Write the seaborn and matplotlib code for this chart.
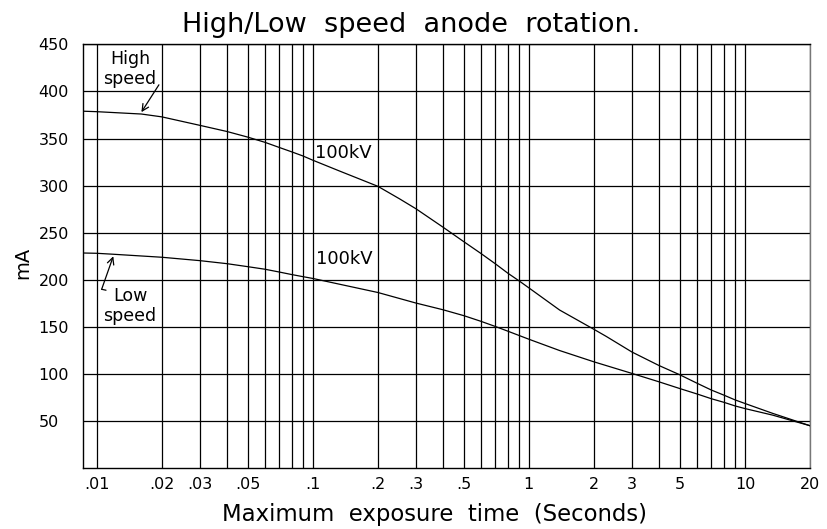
import matplotlib
matplotlib.use("Agg")
import matplotlib.pyplot as plt
from matplotlib.ticker import FixedLocator, NullFormatter
import pandas as pd
import seaborn as sns

# Maximum tube current (mA) against exposure time (s) at 100 kV
high_time_s = [0.00864, 0.01, 0.0161, 0.02, 0.03, 0.04, 0.05, 0.06, 0.07, 0.08,
               0.09, 0.1, 0.133, 0.2, 0.252, 0.3, 0.4, 0.5, 0.6, 0.7, 0.8, 0.9,
               1, 1.387, 2, 2.28, 3, 4, 5, 6, 7, 8, 9, 10, 13.4, 20]
high_speed_ma = [379, 378.5, 376, 373, 364, 357.5, 351.5, 346, 340.5, 335.8,
                 331.5, 327, 315.5, 299.3, 286, 275.5, 256, 240.5, 228,
                 217, 207, 199, 191.5, 168, 147.5, 140, 123.4, 109.1,
                 99.2, 90.3, 83, 77.6, 72.6, 68.8, 58.4, 45.2]

low_time_s = [0.00864, 0.01, 0.0119, 0.02, 0.03, 0.04, 0.05, 0.06, 0.07, 0.08,
              0.09, 0.1, 0.2, 0.3, 0.4, 0.5, 0.6, 0.7, 0.8, 0.9, 1,
              1.387, 2, 3, 4, 5, 6, 7, 8, 9, 10, 13.4, 20]
low_speed_ma = [228.5, 228.2, 227.2, 224, 220.4, 217.2, 214, 211.3, 208.3,
                205.6, 203.4, 201.5, 186.6, 175.4, 168.3, 162, 156, 150.5,
                145.5, 141, 137, 125, 113, 100.7, 91.8, 84.6,
                78.9, 73.8, 70, 66.2, 63.4, 56.5, 45.2]

x_tick_values = [0.01, 0.02, 0.03, 0.05, 0.1, 0.2, 0.3, 0.5, 1, 2, 3, 5, 10, 20]
x_tick_labels = [".01", ".02", ".03", ".05", ".1", ".2", ".3", ".5",
                 "1", "2", "3", "5", "10", "20"]
y_tick_values = [50, 100, 150, 200, 250, 300, 350, 400, 450]

sns.set_style("white")
plt.rcParams["font.family"] = ["DejaVu Sans"]
plt.rcParams.update({"text.color": "black", "axes.labelcolor": "black",
                     "xtick.color": "black", "ytick.color": "black"})

df = pd.DataFrame({
    "time": high_time_s + low_time_s,
    "mA": high_speed_ma + low_speed_ma,
    "speed": ["High speed"] * len(high_time_s) + ["Low speed"] * len(low_time_s),
})

fig = plt.figure(figsize=(8.27, 5.29), dpi=100)
ax = fig.add_axes([0.10036, 0.11474, 0.87908, 0.80151])
ax.set_xscale("log")

sns.lineplot(data=df, x="time", y="mA", hue="speed",
             palette={"High speed": "black", "Low speed": "black"},
             estimator=None, lw=0.9, legend=False, ax=ax, zorder=3)

ax.set_xlim(0.00864, 20)
ax.set_ylim(0, 450)

# log paper: a grid line at every 1..9 multiple of each decade
minor_x = [k * 10.0 ** d for d in range(-2, 2) for k in range(1, 10)
           if k * 10.0 ** d <= 20
           and not any(abs(k * 10.0 ** d - v) < 1e-9 for v in x_tick_values)]
ax.set_xticks(x_tick_values)
ax.set_xticklabels(x_tick_labels)
ax.xaxis.set_minor_locator(FixedLocator(minor_x))
ax.xaxis.set_minor_formatter(NullFormatter())
ax.set_yticks(y_tick_values)
ax.set_yticklabels([str(v) for v in y_tick_values])

ax.grid(which="both", axis="x", color="black", lw=0.9)
ax.grid(which="major", axis="y", color="black", lw=0.9)
ax.tick_params(which="both", length=0)
ax.tick_params(axis="x", pad=6, labelsize=11.5, colors="black")
ax.tick_params(axis="y", pad=32, labelsize=11.5, colors="black")
for lbl in ax.get_yticklabels():
    lbl.set_horizontalalignment("left")

for side in ["left", "bottom", "top"]:
    ax.spines[side].set_color("black")
    ax.spines[side].set_linewidth(1.0)
ax.spines["right"].set_color("#777777")
ax.spines["right"].set_linewidth(1.0)

ax.set_xlabel("Maximum  exposure  time  (Seconds)", fontsize=16.4, color="black")
ax.xaxis.set_label_coords(0.484, -0.082)
ax.set_ylabel("mA", fontsize=14, color="black")
ax.yaxis.set_label_coords(-0.07, 0.484)

fig.text(0.4976, 1 - 32 / 529, "High/Low  speed  anode  rotation.",
         ha="center", va="baseline", fontsize=19.5, color="black")

# curve call-outs
arrow = dict(arrowstyle="->", lw=0.9, color="black", shrinkA=0, shrinkB=0,
             mutation_scale=12)
ax.text(0.01426, 424, "High\nspeed", ha="center", va="center",
        fontsize=12.5, linespacing=1.15, color="black")
ax.annotate("", xy=(0.0161, 378), xytext=(0.0194, 407), arrowprops=arrow)

ax.text(0.01426, 172, "Low\nspeed", ha="center", va="center",
        fontsize=12.5, linespacing=1.15, color="black")
ax.annotate("", xy=(0.01193, 225), xytext=(0.01054, 190), arrowprops=arrow)
ax.annotate("", xy=(0.01104, 189), xytext=(0.01054, 190),
            arrowprops=dict(arrowstyle="-", lw=0.9, color="black",
                            shrinkA=0, shrinkB=0))

ax.text(0.1022, 335, "100kV", ha="left", va="center", fontsize=13, color="black")
ax.text(0.1035, 222.6, "100kV", ha="left", va="center", fontsize=13, color="black")

fig.savefig("out.png", dpi=100)
